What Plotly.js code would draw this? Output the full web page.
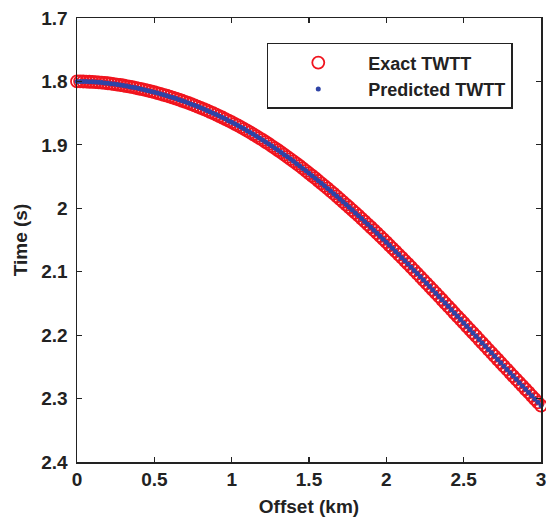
<!DOCTYPE html>
<html>
<head>
<meta charset="utf-8">
<script src="https://cdn.plot.ly/plotly-3.0.1.min.js"></script>
<style>html,body{margin:0;padding:0;background:#fff;}#chart{width:546px;height:517px;}</style>
</head>
<body>
<div id="chart"></div>
<script>
const offsetKm = [
  0.00,0.02,0.04,0.06,0.08,0.10,0.12,0.14,0.16,0.18,0.20,0.22,0.24,
  0.26,0.28,0.30,0.32,0.34,0.36,0.38,0.40,0.42,0.44,0.46,0.48,
  0.50,0.52,0.54,0.56,0.58,0.60,0.62,0.64,0.66,0.68,0.70,0.72,0.74,
  0.76,0.78,0.80,0.82,0.84,0.86,0.88,0.90,0.92,0.94,0.96,0.98,
  1.00,1.02,1.04,1.06,1.08,1.10,1.12,1.14,1.16,1.18,1.20,1.22,1.24,
  1.26,1.28,1.30,1.32,1.34,1.36,1.38,1.40,1.42,1.44,1.46,1.48,
  1.50,1.52,1.54,1.56,1.58,1.60,1.62,1.64,1.66,1.68,1.70,1.72,1.74,
  1.76,1.78,1.80,1.82,1.84,1.86,1.88,1.90,1.92,1.94,1.96,1.98,
  2.00,2.02,2.04,2.06,2.08,2.10,2.12,2.14,2.16,2.18,2.20,2.22,2.24,
  2.26,2.28,2.30,2.32,2.34,2.36,2.38,2.40,2.42,2.44,2.46,2.48,
  2.50,2.52,2.54,2.56,2.58,2.60,2.62,2.64,2.66,2.68,2.70,2.72,2.74,
  2.76,2.78,2.80,2.82,2.84,2.86,2.88,2.90,2.92,2.94,2.96,2.98,3.00
];
const exactTWTT = [
  1.8000,1.8000,1.8001,1.8003,1.8005,1.8007,1.8010,1.8014,1.8018,1.8023,1.8029,1.8035,1.8041,
  1.8049,1.8056,1.8064,1.8073,1.8082,1.8091,1.8101,1.8112,1.8122,1.8134,1.8145,1.8157,
  1.8170,1.8183,1.8197,1.8211,1.8225,1.8240,1.8255,1.8271,1.8288,1.8305,1.8322,1.8340,1.8358,
  1.8377,1.8396,1.8416,1.8436,1.8457,1.8479,1.8501,1.8523,1.8546,1.8569,1.8593,1.8618,
  1.8643,1.8668,1.8694,1.8721,1.8748,1.8776,1.8804,1.8833,1.8863,1.8893,1.8923,1.8955,1.8986,
  1.9019,1.9052,1.9085,1.9119,1.9154,1.9188,1.9224,1.9260,1.9296,1.9333,1.9371,1.9409,
  1.9448,1.9487,1.9526,1.9566,1.9606,1.9646,1.9687,1.9729,1.9770,1.9812,1.9855,1.9898,1.9941,
  1.9984,2.0028,2.0073,2.0117,2.0162,2.0208,2.0253,2.0299,2.0346,2.0393,2.0440,2.0487,
  2.0535,2.0583,2.0632,2.0680,2.0729,2.0779,2.0828,2.0878,2.0928,2.0979,2.1029,2.1080,2.1132,
  2.1183,2.1235,2.1287,2.1339,2.1390,2.1442,2.1494,2.1546,2.1598,2.1651,2.1703,2.1755,
  2.1808,2.1860,2.1912,2.1965,2.2017,2.2070,2.2122,2.2174,2.2227,2.2279,2.2332,2.2384,2.2436,
  2.2489,2.2541,2.2593,2.2645,2.2697,2.2749,2.2801,2.2853,2.2904,2.2956,2.3007,2.3059,2.3110
];
const predictedTWTT = [
  1.8000,1.8000,1.8001,1.8003,1.8005,1.8007,1.8010,1.8014,1.8018,1.8023,1.8029,1.8035,1.8041,
  1.8049,1.8056,1.8064,1.8073,1.8082,1.8091,1.8101,1.8112,1.8122,1.8134,1.8145,1.8157,
  1.8170,1.8183,1.8197,1.8211,1.8225,1.8240,1.8255,1.8271,1.8288,1.8305,1.8322,1.8340,1.8358,
  1.8377,1.8396,1.8416,1.8436,1.8457,1.8479,1.8501,1.8523,1.8546,1.8569,1.8593,1.8618,
  1.8643,1.8668,1.8694,1.8721,1.8748,1.8776,1.8804,1.8833,1.8863,1.8893,1.8923,1.8955,1.8986,
  1.9019,1.9052,1.9085,1.9119,1.9154,1.9188,1.9224,1.9260,1.9296,1.9333,1.9371,1.9409,
  1.9448,1.9487,1.9526,1.9566,1.9606,1.9646,1.9687,1.9729,1.9770,1.9812,1.9855,1.9898,1.9941,
  1.9984,2.0028,2.0073,2.0117,2.0162,2.0208,2.0253,2.0299,2.0346,2.0393,2.0440,2.0487,
  2.0535,2.0583,2.0632,2.0680,2.0729,2.0779,2.0828,2.0878,2.0928,2.0979,2.1029,2.1080,2.1132,
  2.1183,2.1235,2.1287,2.1339,2.1390,2.1442,2.1494,2.1546,2.1598,2.1651,2.1703,2.1755,
  2.1808,2.1860,2.1912,2.1965,2.2017,2.2070,2.2122,2.2174,2.2227,2.2279,2.2332,2.2384,2.2436,
  2.2489,2.2541,2.2593,2.2645,2.2697,2.2749,2.2801,2.2853,2.2904,2.2956,2.3007,2.3059,2.3110
];
const xTicks = [0, 0.5, 1, 1.5, 2, 2.5, 3];
const xTickText = ['0', '0.5', '1', '1.5', '2', '2.5', '3'];
const yTicks = [1.7, 1.8, 1.9, 2.0, 2.1, 2.2, 2.3, 2.4];
const yTickText = ['1.7', '1.8', '1.9', '2', '2.1', '2.2', '2.3', '2.4'];
const seriesNames = ['Exact TWTT', 'Predicted TWTT'];

const FONT = 'Liberation Sans, Arial, sans-serif';
const traces = [
  {
    x: offsetKm, y: exactTWTT, name: seriesNames[0],
    type: 'scatter', mode: 'markers', cliponaxis: false,
    marker: {symbol: 'circle-open', size: 12, color: '#f0141e', line: {width: 1.8, color: '#f0141e'}}
  },
  {
    x: offsetKm, y: predictedTWTT, name: seriesNames[1],
    type: 'scatter', mode: 'markers', cliponaxis: false,
    marker: {symbol: 'circle', size: 5, color: '#2f44a6'}
  }
];
const axisCommon = {
  showline: true, linecolor: '#222', linewidth: 1.5, mirror: 'ticks',
  ticks: 'inside', ticklen: 5, tickwidth: 1.2, tickcolor: '#222',
  showgrid: false, zeroline: false, ticklabeloverflow: 'allow',
  tickfont: {family: FONT, size: 19, color: '#222', weight: 'bold'}
};
const layout = {
  width: 546, height: 517,
  margin: {l: 77, r: 5, t: 18, b: 55, pad: 0},
  paper_bgcolor: '#fff', plot_bgcolor: '#fff',
  showlegend: true,
  font: {family: FONT, color: '#222'},
  xaxis: Object.assign({}, axisCommon, {
    range: [0, 3], tickvals: xTicks, ticktext: xTickText,
    title: {text: 'Offset (km)', font: {family: FONT, size: 19, color: '#222', weight: 'bold'}, standoff: 10}
  }),
  yaxis: Object.assign({}, axisCommon, {
    range: [2.4, 1.7], tickvals: yTicks, ticktext: yTickText,
    ticklabelstandoff: 4,
    title: {text: 'Time (s)', font: {family: FONT, size: 19, color: '#222', weight: 'bold'}, standoff: 8}
  }),
  legend: {
    x: 0.409, y: 0.944, xanchor: 'left', yanchor: 'top',
    bordercolor: '#222', borderwidth: 1.5, bgcolor: '#fff',
    font: {family: FONT, size: 18, color: '#222', weight: 'bold'},
    itemwidth: 90, tracegroupgap: 0
  }
};
Plotly.newPlot('chart', traces, layout, {displayModeBar: false, staticPlot: true});
</script>
</body>
</html>
